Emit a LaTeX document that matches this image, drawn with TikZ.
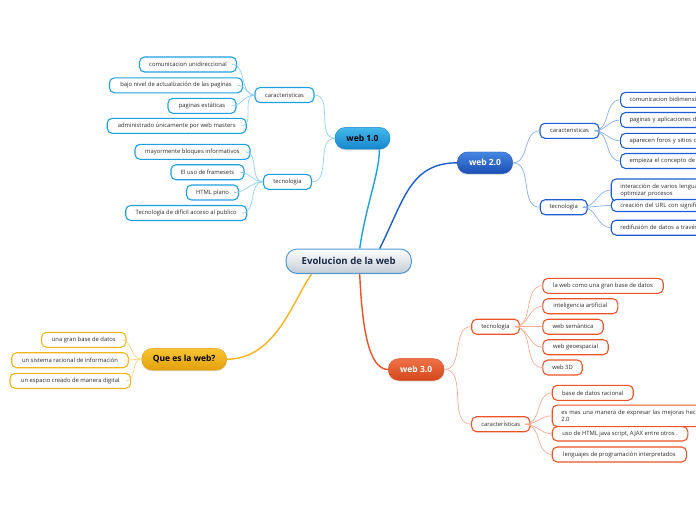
\documentclass[tikz,border=0pt]{standalone}
\usepackage{fontspec}
\setmainfont{Open Sans}
\usetikzlibrary{shadows}
\definecolor{bOne}{HTML}{1E9FE2}
\definecolor{bOneL}{HTML}{8FD0F2}
\definecolor{bOneT}{HTML}{45B8EC}
\definecolor{bOneB}{HTML}{1686CB}
\definecolor{bTwo}{HTML}{1A5ED2}
\definecolor{bTwoL}{HTML}{86AEEB}
\definecolor{bTwoT}{HTML}{4686E2}
\definecolor{bTwoB}{HTML}{1B4FB3}
\definecolor{bThr}{HTML}{EE5326}
\definecolor{bThrL}{HTML}{F8AB90}
\definecolor{bThrT}{HTML}{F07246}
\definecolor{bThrB}{HTML}{D5461C}
\definecolor{bQue}{HTML}{F6B31C}
\definecolor{bQueL}{HTML}{F9D585}
\definecolor{bQueT}{HTML}{F8C534}
\definecolor{bQueB}{HTML}{E3A00C}
\definecolor{cenB}{HTML}{4E9BD6}
\definecolor{cenG}{HTML}{C3CCD5}
\definecolor{cenT}{HTML}{1B2A48}
\definecolor{leafT}{HTML}{2A2A2A}
\tikzset{
  leaf/.style={draw=#1, line width=1.1pt, fill=white, rounded corners=5pt,
    minimum height=15pt, inner xsep=4pt, inner ysep=0.5pt,
    font=\fontsize{5.85}{7}\selectfont, text=leafT},
  cutleaf/.style={leaf=#1, anchor=west, text width=150pt, align=left, inner xsep=9pt},
  mainnode/.style 2 args={rounded corners=10.5pt, minimum height=21.7pt,
    top color=#1, bottom color=#2, draw=#2, line width=0.4pt,
    font=\bfseries\fontsize{8.5}{10}\selectfont,
    drop shadow={shadow xshift=0pt, shadow yshift=-1.2pt, opacity=0.25}},
  mainlink/.style={draw=#1, line width=1.4pt},
  sublink/.style={draw=#1, line width=0.7pt}
}
\begin{document}
\begin{tikzpicture}[x=1pt,y=-1pt]
\useasboundingbox (0,0) rectangle (696,520);

% ---------- central node
\node[rounded corners=11pt, minimum width=125.3pt, minimum height=24.3pt,
  top color=white, bottom color=cenG, draw=cenB, line width=1pt,
  font=\bfseries\fontsize{9.6}{11}\selectfont, text=cenT,
  drop shadow={shadow xshift=0pt, shadow yshift=-1.2pt, opacity=0.2}]
  (ev) at (348.7,261.2) {Evolucion de la web};

% ---------- main topics
\node[mainnode={bOneT}{bOneB}, minimum width=55pt, text=black] (w1) at (362.5,138.2) {web 1.0};
\node[mainnode={bTwoT}{bTwoB}, minimum width=55.4pt, text=white] (w2) at (485,162.8) {web 2.0};
\node[mainnode={bThrT}{bThrB}, minimum width=55.7pt, text=white] (w3) at (416.2,369.5) {web 3.0};
\node[mainnode={bQueT}{bQueB}, minimum width=85pt, text=black] (que) at (184.2,359.2) {Que es la web?};

% ---------- web 1.0 subtree
\node[leaf=bOne, minimum width=59pt] (c1) at (284.5,95) {caracteristicas};
\node[leaf=bOne, minimum width=97pt] (l11) at (188,64.5) {comunicacion unidireccional};
\node[leaf=bOne, minimum width=133pt] (l12) at (176,85.3) {bajo nivel de actualización de las paginas};
\node[leaf=bOne, minimum width=68pt] (l13) at (202,105.8) {paginas estáticas};
\node[leaf=bOne, minimum width=139pt] (l14) at (176.7,125.8) {administrado únicamente por web masters};
\node[leaf=bOne, minimum width=48pt] (t1) at (287.5,181.8) {tecnologia};
\node[leaf=bOne, minimum width=115pt] (l15) at (192.5,151.8) {mayormente bloques informativos};
\node[leaf=bOne, minimum width=73pt] (l16) at (207.5,172.2) {El uso de framesets};
\node[leaf=bOne, minimum width=52pt] (l17) at (212.5,192.5) {HTML plano};
\node[leaf=bOne, minimum width=121pt] (l18) at (186.2,213) {Tecnología de difícil acceso al publico};

% ---------- web 2.0 subtree
\node[leaf=bTwo, minimum width=59pt] (c2) at (569.5,130.8) {caracteristicas};
\node[cutleaf=bTwo] (l21) at (620,99.8) {comunicacion bidimensional entre usuarios};
\node[cutleaf=bTwo] (l22) at (620,120) {paginas y aplicaciones dinámicas en la red};
\node[cutleaf=bTwo] (l23) at (620,140.8) {aparecen foros y sitios de interacción social};
\node[cutleaf=bTwo] (l24) at (620,161) {empieza el concepto de web social y colaborativa};
\node[leaf=bTwo, minimum width=47pt] (t2) at (563.7,207.2) {tecnologia};
\node[cutleaf=bTwo, minimum height=22pt] (l25) at (610.7,190) {interacción de varios lenguajes de programación para\\optimizar procesos};
\node[cutleaf=bTwo, text width=220pt, minimum height=12pt, inner ysep=0pt] (l26) at (610.7,205.5) {creación del URL con significado propio};
\node[cutleaf=bTwo] (l27) at (610.7,227.7) {redifusión de datos a través de RSS y otros formatos};

% ---------- web 3.0 subtree
\node[leaf=bThr, minimum width=47.6pt] (t3) at (495.5,326.7) {tecnología};
\node[leaf=bThr, anchor=west, minimum width=120.4pt] (l31) at (542.3,285.8) {la web como una gran base de datos};
\node[leaf=bThr, anchor=west, minimum width=75pt] (l32) at (542.3,306.2) {inteligencia artificial};
\node[leaf=bThr, anchor=west, minimum width=60.4pt] (l33) at (542.3,326.7) {web semántica};
\node[leaf=bThr, anchor=west, minimum width=65.4pt] (l34) at (542.3,347.2) {web geoespacial};
\node[leaf=bThr, anchor=west, minimum width=39.4pt] (l35) at (542.3,367.5) {web 3D};
\node[leaf=bThr, minimum width=58.3pt] (c3) at (500.8,424.2) {características};
\node[leaf=bThr, anchor=west, minimum width=81pt] (l36) at (551.7,392.8) {base de datos racional};
\node[cutleaf=bThr, text width=190pt, minimum height=21.5pt] (l37) at (551.7,415.8) {es mas una manera de expresar las mejoras hechas en la web\\2.0};
\node[leaf=bThr, anchor=west, minimum width=135.6pt, minimum height=14.3pt] (l38) at (551.7,433.8) {uso de HTML java script, AJAX entre otros .};
\node[leaf=bThr, anchor=west, minimum width=134.3pt] (l39) at (551.7,454.5) {lenguajes de programación interpretados};

% ---------- Que es la web subtree
\node[leaf=bQue, minimum width=84.3pt] (q1) at (83.8,339.8) {una gran base de datos};
\node[leaf=bQue, minimum width=116.6pt] (q2) at (70,360.2) {un sistema racional de información};
\node[leaf=bQue, minimum width=120.7pt] (q3) at (70.3,380.8) {un espacio creado de manera digital};

% ---------- main connectors
\draw[mainlink=bOne] ([xshift=11pt]ev.north) .. controls (366,205) and (379,175) .. ([xshift=17pt]w1.south);
\draw[mainlink=bTwo] ([xshift=31pt]ev.north) .. controls (404,200) and (410,163) .. (w2.west);
\draw[mainlink=bThr] ([xshift=11pt]ev.south) .. controls (362,325) and (368,369.5) .. (w3.west);
\draw[mainlink=bQue] ([xshift=-37pt]ev.south) .. controls (293,300) and (276,359.2) .. (que.east);

% ---------- topic to subtopic connectors
\foreach \s in {c1,t1} \draw[sublink=bOneL] (w1.west) to[out=180,in=0] (\s.east);
\foreach \s in {c2,t2} \draw[sublink=bTwoL] (w2.east) to[out=0,in=180] (\s.west);
\foreach \s in {t3,c3} \draw[sublink=bThrL] (w3.east) to[out=0,in=180] (\s.west);

% ---------- subtopic to leaf connectors
\foreach \l in {l11,l12,l13,l14} \draw[sublink=bOneL] ([xshift=-5pt]\l.east) to[out=0,in=180] (c1.west);
\foreach \l in {l15,l16,l17,l18} \draw[sublink=bOneL] ([xshift=-5pt]\l.east) to[out=0,in=180] (t1.west);
\foreach \l in {l21,l22,l23,l24} \draw[sublink=bTwoL] ([xshift=-5pt]c2.east) to[out=0,in=180] (\l.west);
\foreach \l in {l25,l26,l27} \draw[sublink=bTwoL] ([xshift=-5pt]t2.east) to[out=0,in=180] (\l.west);
\foreach \l in {l31,l32,l33,l34,l35} \draw[sublink=bThrL] ([xshift=-5pt]t3.east) to[out=0,in=180] (\l.west);
\foreach \l in {l36,l37,l38,l39} \draw[sublink=bThrL] ([xshift=-5pt]c3.east) to[out=0,in=180] (\l.west);
\foreach \l in {q1,q2,q3} \draw[sublink=bQueL] ([xshift=-5pt]\l.east) to[out=0,in=180] (que.west);
\end{tikzpicture}
\end{document}
